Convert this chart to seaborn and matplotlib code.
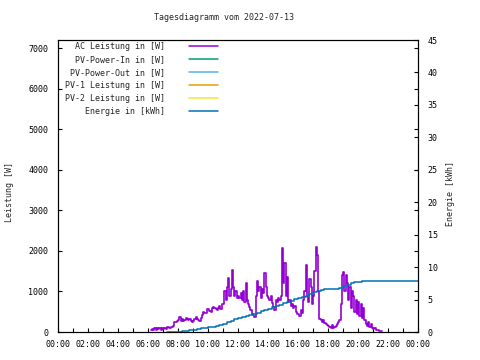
import numpy as np
import pandas as pd
import matplotlib
matplotlib.use("Agg")
import matplotlib.pyplot as plt
from matplotlib.lines import Line2D
import seaborn as sns

# ---------------- data ----------------
title = "Tagesdiagramm vom 2022-07-13"
x_tick_hours = list(range(0, 25, 2))
x_tick_labels = ["00:00", "02:00", "04:00", "06:00", "08:00", "10:00", "12:00",
                 "14:00", "16:00", "18:00", "20:00", "22:00", "00:00"]
left_ticks = [0, 1000, 2000, 3000, 4000, 5000, 6000, 7000]
right_ticks = [0, 5, 10, 15, 20, 25, 30, 35, 40, 45]
left_label = "Leistung [W]"
right_label = "Energie [kWh]"

series_names = ["AC Leistung in [W]", "PV-Power-In in [W]", "PV-Power-Out in [W]",
                "PV-1 Leistung in [W]", "PV-2 Leistung in [W]", "Energie in [kWh]"]
series_colors = ["#9400d3", "#009e73", "#56b4e9", "#e69f00", "#f0e442", "#0072b2"]

# AC power, 5-minute samples starting 06:10
power_start_h = 6 + 10 / 60
power_step_h = 5 / 60
power_w = [
    50, 80, 40, 90, 60, 100, 70, 90, 60, 90,                              # 06
    80, 90, 70, 120, 130, 110, 120, 130, 150, 250, 240, 260,              # 07
    300, 370, 260, 330, 280, 300, 350, 310, 290, 330, 280, 250,           # 08
    280, 330, 370, 310, 290, 260, 350, 420, 500, 480, 470, 560,           # 09
    560, 520, 500, 580, 620, 600, 560, 540, 600, 650, 560, 700,           # 10
    700, 1000, 800, 1100, 1330, 900, 1050, 1530, 1100, 900, 1000, 850,    # 11
    900, 850, 960, 800, 1000, 750, 1200, 800, 700, 620, 550, 450,         # 12
    420, 380, 900, 1250, 1000, 1100, 850, 1050, 950, 1450, 1100, 900,     # 13
    850, 780, 900, 720, 620, 550, 800, 750, 850, 780, 900, 2070,          # 14
    1200, 1700, 900, 1350, 750, 800, 650, 700, 600, 650, 500, 450,        # 15
    450, 400, 550, 480, 800, 1000, 1650, 900, 750, 1300, 1100, 700,       # 16
    900, 1500, 2100, 1900, 1000, 330, 300, 250, 300, 220, 200, 180,       # 17
    150, 120, 100, 180, 100, 120, 150, 200, 250, 300, 700, 1400,          # 18
    1480, 1000, 1400, 1200, 800, 1100, 600, 1000, 900, 500, 800, 450,     # 19
    740, 400, 700, 350, 600, 300, 200, 150, 250, 120, 200, 100,           # 20
    80, 100, 50, 40, 50, 30, 20, 30,                                      # 21
]

# cumulative energy, 15-minute samples starting 07:15, held flat until 24:00
energy_start_h = 7.25
energy_step_h = 0.25
energy_kwh = [
    0.0, 0.02, 0.05,                         # 07:15-07:45
    0.05, 0.1, 0.2, 0.3,                     # 08
    0.35, 0.45, 0.55, 0.65,                  # 09
    0.7, 0.8, 0.95, 1.1,                     # 10
    1.3, 1.5, 1.75, 1.95,                    # 11
    2.15, 2.35, 2.5, 2.65,                   # 12
    2.8, 3.0, 3.2, 3.45,                     # 13
    3.6, 3.8, 3.95, 4.15,                    # 14
    4.4, 4.65, 4.85, 5.05,                   # 15
    5.2, 5.35, 5.6, 5.85,                    # 16
    6.1, 6.35, 6.45, 6.55,                   # 17
    6.6, 6.65, 6.7, 6.8,                     # 18
    7.05, 7.3, 7.5, 7.65,                    # 19
    7.75, 7.8, 7.85, 7.85,                   # 20
    7.9, 7.9, 7.9,                           # 21
]
energy_end_h = 24.0

# ---------------- frames ----------------
power_df = pd.DataFrame({
    "h": power_start_h + np.arange(len(power_w)) * power_step_h,
    "w": power_w,
})
e_times = list(energy_start_h + np.arange(len(energy_kwh)) * energy_step_h) + [energy_end_h]
energy_df = pd.DataFrame({"h": e_times, "kwh": energy_kwh + [energy_kwh[-1]]})

# ---------------- style ----------------
sns.set_style("ticks")
plt.rcParams["font.family"] = ["DejaVu Sans Mono", "DejaVu Sans"]
plt.rcParams["font.size"] = 6
plt.rcParams["axes.linewidth"] = 0.8
plt.rcParams["axes.edgecolor"] = "black"

fig = plt.figure(figsize=(4.8, 3.6), dpi=100)
fig.patch.set_facecolor("white")
ax = fig.add_axes([58 / 480, 28 / 360, 360 / 480, 292 / 360])

sns.lineplot(data=power_df, x="h", y="w", ax=ax, color=series_colors[0], lw=1.2,
             drawstyle="steps-post", estimator=None, legend=False)

ax2 = ax.twinx()
sns.lineplot(data=energy_df, x="h", y="kwh", ax=ax2, color=series_colors[5], lw=1.1,
             drawstyle="steps-post", estimator=None, legend=False)

ax.set_xlim(0, 24)
ax.set_ylim(0, 7200)
ax2.set_ylim(0, 45)

ax.set_xticks(x_tick_hours)
ax.set_xticklabels(x_tick_labels)
ax.set_xticks(list(range(0, 25)), minor=True)
ax.set_yticks(left_ticks)
ax.set_yticklabels([str(v) for v in left_ticks])
ax2.set_yticks(right_ticks)
ax2.set_yticklabels([str(v) for v in right_ticks])

ax.tick_params(axis="x", which="both", direction="in", length=3, width=0.8,
               top=False, pad=6, labelsize=6, colors="black")
ax.tick_params(axis="y", which="both", direction="in", length=3, width=0.8,
               right=True, left=True, pad=7, labelsize=6, colors="black")
ax2.tick_params(axis="y", direction="in", length=3, width=0.8, pad=7,
                labelsize=6, colors="black")

for a in (ax, ax2):
    for s in a.spines.values():
        s.set_visible(True)
        s.set_color("black")
        s.set_linewidth(0.8)

ax.set_xlabel("")
ax.set_ylabel(left_label, fontsize=6, va="center")
ax.yaxis.set_label_coords((10 - 58) / 360, 0.48)
ax2.set_ylabel(right_label, fontsize=6, va="center", rotation=90)
ax2.yaxis.set_label_coords((451 - 58) / 360, 0.475)

fig.text(224 / 480, 1 - 18 / 360, title, ha="center", va="center", fontsize=6)

handles = [Line2D([], [], color=c, lw=1.1) for c in series_colors]
ax2.legend(handles, series_names, loc="upper left",
           bbox_to_anchor=(65 / 480, 1 - 42 / 360), bbox_transform=fig.transFigure,
           markerfirst=False, frameon=False, fontsize=6, handlelength=3.4,
           handletextpad=2.9, labelspacing=0.47, borderaxespad=0, borderpad=0)

fig.savefig("out.png", dpi=100, facecolor="white")
